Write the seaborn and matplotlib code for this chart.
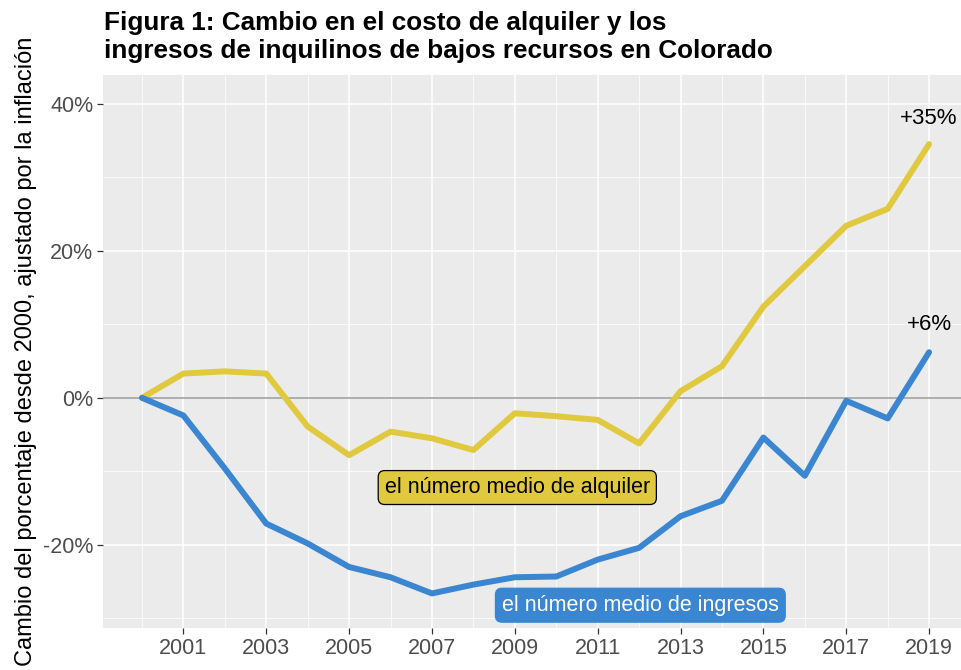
import numpy as np
import pandas as pd
import seaborn as sns
from matplotlib import pyplot as plt
from matplotlib.ticker import FixedLocator, FuncFormatter

# data (percent change since 2000, inflation adjusted)
years = [2000, 2001, 2002, 2003, 2004, 2005, 2006, 2007, 2008, 2009,
         2010, 2011, 2012, 2013, 2014, 2015, 2016, 2017, 2018, 2019]
rent = [0, 3.3, 3.6, 3.3, -3.9, -7.8, -4.6, -5.5, -7.1, -2.1,
        -2.5, -3.0, -6.2, 0.9, 4.3, 12.4, 17.9, 23.4, 25.7, 34.5]
income = [0, -2.4, -9.6, -17.1, -19.8, -23.0, -24.4, -26.6, -25.4, -24.4,
          -24.3, -22.0, -20.4, -16.1, -14.0, -5.4, -10.6, -0.4, -2.8, 6.2]

series_names = ["el número medio de alquiler", "el número medio de ingresos"]
end_labels = ["+35%", "+6%"]
x_ticks = [2001, 2003, 2005, 2007, 2009, 2011, 2013, 2015, 2017, 2019]
y_ticks = [-20, 0, 20, 40]

yellow = "#E0C93F"
blue = "#3A86D0"

df = pd.DataFrame({
    "year": years * 2,
    "value": rent + income,
    "serie": [series_names[0]] * len(years) + [series_names[1]] * len(years),
})

sns.set_theme(style="darkgrid", rc={
    "axes.facecolor": "#EBEBEB",
    "grid.color": "white",
})
plt.rcParams["font.family"] = ["Liberation Sans", "DejaVu Sans"]

fig = plt.figure(figsize=(9.61, 6.70), dpi=100)
ax = fig.add_axes([103 / 961, 1 - 628 / 670, 1 - 103 / 961, (628 - 75) / 670])

ax.axhline(0, color="#A8A8A8", linewidth=1.3, zorder=2)

sns.lineplot(data=df, x="year", y="value", hue="serie",
             palette=[yellow, blue], linewidth=4.3, legend=False,
             ax=ax, zorder=3)

ax.set_xlim(1999.06, 2019.77)
ax.set_ylim(-31.3, 43.9)

ax.xaxis.set_major_locator(FixedLocator(x_ticks))
ax.xaxis.set_minor_locator(FixedLocator([y for y in years if y % 2 == 0]))
ax.yaxis.set_major_locator(FixedLocator(y_ticks))
ax.yaxis.set_minor_locator(FixedLocator([-30, -10, 10, 30]))
ax.yaxis.set_major_formatter(FuncFormatter(lambda v, p: f"{v:.0f}%"))
ax.xaxis.set_major_formatter(FuncFormatter(lambda v, p: f"{v:.0f}"))

ax.grid(which="major", color="white", linewidth=1.1)
ax.grid(which="minor", color="white", linewidth=0.55)
ax.tick_params(which="major", length=4, width=0.9, color="#333333",
               labelsize=15.5, labelcolor="#4D4D4D", pad=3, left=True, bottom=True)
ax.tick_params(which="minor", length=0)
for s in ax.spines.values():
    s.set_visible(False)

ax.set_xlabel("")
ax.set_ylabel("Cambio del porcentaje desde 2000, ajustado por la inflación",
              fontsize=17, color="black", labelpad=4)

# series labels in boxes
ax.text(2009.06, -12.2, series_names[0], fontsize=15.5, color="black",
        ha="center", va="center", zorder=5,
        bbox=dict(boxstyle="round,pad=0.3,rounding_size=0.3", fc=yellow,
                  ec="black", lw=0.9))
ax.text(2012.03, -28.2, series_names[1], fontsize=15.5, color="white",
        ha="center", va="center", zorder=5,
        bbox=dict(boxstyle="round,pad=0.3,rounding_size=0.3", fc=blue,
                  ec=blue, lw=0.9))

# end labels
ax.text(years[-1], rent[-1] + 3.5, end_labels[0], fontsize=16, color="black",
        ha="center", va="center", zorder=5)
ax.text(years[-1], income[-1] + 3.8, end_labels[1], fontsize=16, color="black",
        ha="center", va="center", zorder=5)

fig.text(104 / 961, 1 - 11 / 670,
         "Figura 1: Cambio en el costo de alquiler y los\n"
         "ingresos de inquilinos de bajos recursos en Colorado",
         fontsize=18.8, fontweight="bold", color="black",
         ha="left", va="top", linespacing=1.22)

fig.savefig("out.png", dpi=100)
